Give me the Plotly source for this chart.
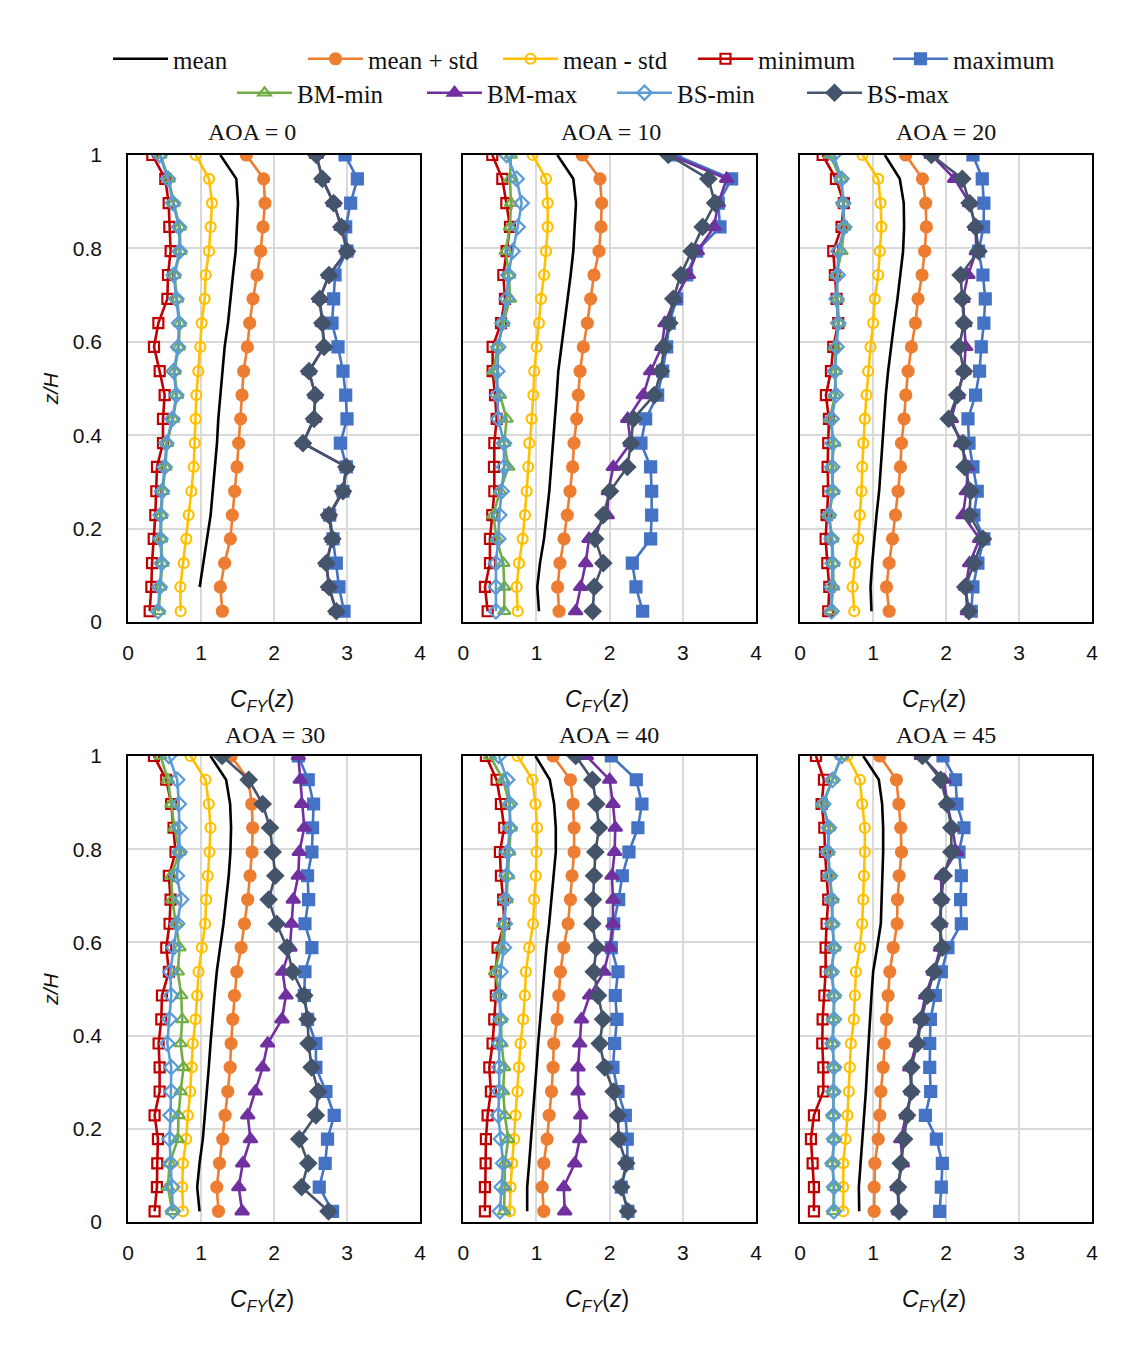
import plotly.graph_objects as go

# z/H levels (top to bottom)
Z = [1.0, 0.949, 0.897, 0.846, 0.794, 0.743, 0.692, 0.640, 0.589, 0.537,
     0.486, 0.435, 0.383, 0.332, 0.280, 0.229, 0.178, 0.126, 0.075, 0.023]

AOA = ["AOA = 0", "AOA = 10", "AOA = 20", "AOA = 30", "AOA = 40", "AOA = 45"]
X_TITLE = "<i>C</i><sub><i>FY</i></sub>(<i>z</i>)"
Y_TITLE = "<i>z/H</i>"

MEAN = [
    [1.265, 1.484, 1.507, 1.493, 1.475, 1.438, 1.406, 1.370, 1.324, 1.292, 1.265, 1.237, 1.219, 1.192, 1.164, 1.132, 1.082, 1.027, 0.982, None],
    [1.285, 1.503, 1.540, 1.526, 1.503, 1.467, 1.426, 1.390, 1.344, 1.298, 1.276, 1.253, 1.230, 1.207, 1.175, 1.139, 1.103, 1.048, 1.011, 1.034],
    [1.162, 1.367, 1.421, 1.426, 1.412, 1.376, 1.335, 1.289, 1.244, 1.207, 1.175, 1.153, 1.125, 1.107, 1.084, 1.048, 1.016, 0.989, 0.966, 0.979],
    [1.130, 1.344, 1.399, 1.412, 1.403, 1.380, 1.344, 1.308, 1.262, 1.216, 1.185, 1.153, 1.130, 1.107, 1.080, 1.048, 1.025, 0.980, 0.948, 0.980],
    [0.986, 1.182, 1.241, 1.264, 1.264, 1.236, 1.205, 1.173, 1.136, 1.105, 1.077, 1.045, 1.023, 1.000, 0.977, 0.955, 0.932, 0.900, 0.873, 0.873],
    [0.866, 1.080, 1.125, 1.139, 1.139, 1.125, 1.116, 1.107, 1.057, 1.002, 0.979, 0.957, 0.934, 0.920, 0.902, 0.879, 0.852, 0.829, 0.806, 0.811],
]

MEAN_PLUS = [
    [1.621, 1.858, 1.877, 1.849, 1.817, 1.767, 1.712, 1.667, 1.635, 1.584, 1.562, 1.543, 1.516, 1.493, 1.461, 1.429, 1.402, 1.324, 1.265, 1.292],
    [1.626, 1.868, 1.891, 1.882, 1.854, 1.786, 1.740, 1.695, 1.640, 1.595, 1.572, 1.549, 1.513, 1.494, 1.458, 1.421, 1.376, 1.321, 1.289, 1.308],
    [1.449, 1.677, 1.722, 1.731, 1.708, 1.672, 1.617, 1.581, 1.526, 1.481, 1.449, 1.426, 1.390, 1.376, 1.344, 1.308, 1.267, 1.221, 1.185, 1.221],
    [1.412, 1.649, 1.695, 1.708, 1.699, 1.672, 1.640, 1.595, 1.549, 1.490, 1.458, 1.435, 1.412, 1.399, 1.367, 1.330, 1.298, 1.253, 1.216, 1.239],
    [1.227, 1.464, 1.500, 1.514, 1.514, 1.486, 1.464, 1.432, 1.373, 1.327, 1.305, 1.282, 1.236, 1.227, 1.205, 1.173, 1.145, 1.100, 1.077, 1.100],
    [1.093, 1.321, 1.353, 1.380, 1.390, 1.358, 1.335, 1.330, 1.276, 1.230, 1.207, 1.185, 1.153, 1.139, 1.107, 1.093, 1.071, 1.025, 1.016, 1.016],
]

MEAN_MINUS = [
    [0.927, 1.110, 1.151, 1.132, 1.110, 1.064, 1.050, 1.009, 0.991, 0.963, 0.936, 0.927, 0.913, 0.900, 0.868, 0.831, 0.799, 0.763, 0.717, 0.721],
    [0.948, 1.130, 1.153, 1.153, 1.130, 1.103, 1.062, 1.034, 1.002, 0.970, 0.957, 0.934, 0.902, 0.888, 0.866, 0.843, 0.811, 0.761, 0.729, 0.743],
    [0.856, 1.071, 1.103, 1.116, 1.093, 1.071, 1.025, 1.002, 0.966, 0.934, 0.911, 0.888, 0.866, 0.852, 0.843, 0.820, 0.797, 0.752, 0.720, 0.743],
    [0.856, 1.062, 1.107, 1.130, 1.116, 1.093, 1.071, 1.057, 1.011, 0.966, 0.948, 0.925, 0.888, 0.875, 0.852, 0.820, 0.797, 0.752, 0.743, 0.752],
    [0.741, 0.945, 0.986, 1.009, 1.000, 0.991, 0.968, 0.955, 0.900, 0.855, 0.841, 0.818, 0.782, 0.759, 0.741, 0.714, 0.695, 0.668, 0.645, 0.636],
    [0.647, 0.820, 0.852, 0.888, 0.888, 0.875, 0.866, 0.852, 0.820, 0.765, 0.752, 0.738, 0.697, 0.683, 0.670, 0.651, 0.624, 0.592, 0.592, 0.592],
]

MINIMUM = [
    [0.333, 0.511, 0.557, 0.566, 0.584, 0.548, 0.539, 0.416, 0.356, 0.434, 0.502, 0.479, 0.479, 0.397, 0.388, 0.374, 0.352, 0.329, 0.320, 0.297],
    [0.396, 0.533, 0.588, 0.638, 0.592, 0.547, 0.569, 0.515, 0.401, 0.401, 0.433, 0.456, 0.424, 0.419, 0.424, 0.396, 0.364, 0.364, 0.296, 0.333],
    [0.310, 0.492, 0.601, 0.569, 0.456, 0.478, 0.501, 0.524, 0.456, 0.424, 0.355, 0.396, 0.387, 0.378, 0.387, 0.364, 0.351, 0.374, 0.401, 0.387],
    [0.355, 0.524, 0.592, 0.624, 0.651, 0.560, 0.583, 0.569, 0.524, 0.560, 0.465, 0.456, 0.419, 0.433, 0.433, 0.364, 0.410, 0.401, 0.396, 0.364],
    [0.309, 0.455, 0.514, 0.559, 0.500, 0.514, 0.545, 0.559, 0.468, 0.445, 0.445, 0.423, 0.400, 0.355, 0.377, 0.332, 0.309, 0.305, 0.295, 0.295],
    [0.219, 0.328, 0.296, 0.333, 0.342, 0.364, 0.387, 0.364, 0.351, 0.351, 0.333, 0.310, 0.305, 0.319, 0.319, 0.191, 0.150, 0.173, 0.191, 0.191],
]

MAXIMUM = [
    [2.973, 3.142, 3.050, 2.982, 3.000, 2.836, 2.817, 2.795, 2.877, 2.945, 2.982, 3.000, 2.909, 2.991, 2.945, 2.763, 2.808, 2.854, 2.890, 2.959],
    [2.893, 3.667, 3.485, 3.508, 3.189, 3.052, 2.916, 2.815, 2.779, 2.724, 2.656, 2.492, 2.428, 2.560, 2.574, 2.574, 2.560, 2.310, 2.360, 2.451],
    [2.369, 2.497, 2.519, 2.515, 2.446, 2.506, 2.538, 2.519, 2.483, 2.460, 2.405, 2.301, 2.315, 2.369, 2.428, 2.383, 2.519, 2.437, 2.369, 2.346],
    [2.333, 2.469, 2.542, 2.528, 2.519, 2.460, 2.474, 2.424, 2.519, 2.424, 2.415, 2.460, 2.574, 2.574, 2.711, 2.825, 2.733, 2.701, 2.620, 2.802],
    [2.023, 2.364, 2.441, 2.386, 2.264, 2.173, 2.123, 2.055, 2.023, 2.114, 2.077, 2.100, 2.068, 2.045, 2.114, 2.214, 2.241, 2.241, 2.159, 2.250],
    [1.959, 2.132, 2.150, 2.246, 2.178, 2.210, 2.200, 2.210, 2.027, 1.936, 1.854, 1.786, 1.777, 1.777, 1.790, 1.718, 1.868, 1.950, 1.936, 1.913],
]

BM_MIN = [
    [0.444, 0.558, 0.626, 0.709, 0.718, 0.636, 0.672, 0.709, 0.695, 0.636, 0.672, 0.617, 0.535, 0.512, 0.476, 0.457, 0.453, 0.471, 0.444, 0.421],
    [0.651, 0.638, 0.651, 0.638, 0.579, 0.624, 0.638, 0.547, 0.469, 0.410, 0.501, 0.592, 0.560, 0.615, 0.501, 0.410, 0.456, 0.547, 0.560, 0.560],
    [0.410, 0.560, 0.592, 0.606, 0.569, 0.501, 0.515, 0.533, 0.478, 0.487, 0.478, 0.410, 0.469, 0.433, 0.456, 0.396, 0.442, 0.456, 0.456, 0.424],
    [0.446, 0.547, 0.592, 0.638, 0.706, 0.592, 0.606, 0.661, 0.706, 0.683, 0.729, 0.743, 0.720, 0.761, 0.720, 0.692, 0.683, 0.569, 0.547, 0.606],
    [0.364, 0.545, 0.627, 0.650, 0.627, 0.614, 0.591, 0.545, 0.514, 0.432, 0.500, 0.514, 0.523, 0.559, 0.545, 0.568, 0.614, 0.568, 0.568, 0.559],
    [0.569, 0.442, 0.310, 0.396, 0.387, 0.410, 0.442, 0.446, 0.469, 0.433, 0.469, 0.456, 0.446, 0.465, 0.456, 0.456, 0.465, 0.442, 0.465, 0.456],
]

BM_MAX = [
    [2.580, 2.662, 2.817, 2.922, 3.000, 2.753, 2.626, 2.662, 2.685, 2.479, 2.566, 2.548, 2.397, 2.991, 2.945, 2.753, 2.799, 2.717, 2.753, 2.854],
    [2.825, 3.599, 3.485, 3.426, 3.198, 3.075, 2.893, 2.756, 2.711, 2.560, 2.460, 2.246, 2.287, 2.050, 1.982, 1.968, 1.718, 1.672, 1.604, 1.535],
    [1.800, 2.118, 2.323, 2.405, 2.415, 2.301, 2.232, 2.255, 2.269, 2.246, 2.164, 2.073, 2.200, 2.301, 2.278, 2.232, 2.460, 2.323, 2.269, 2.292],
    [2.333, 2.360, 2.378, 2.415, 2.346, 2.333, 2.264, 2.241, 2.219, 2.118, 2.164, 2.109, 1.913, 1.845, 1.745, 1.640, 1.677, 1.572, 1.517, 1.563],
    [1.682, 2.000, 2.045, 2.077, 2.068, 2.032, 2.045, 2.045, 2.000, 1.923, 1.727, 1.614, 1.591, 1.568, 1.568, 1.605, 1.591, 1.523, 1.373, 1.386],
    [1.663, 1.973, 2.018, 2.087, 2.141, 1.936, 1.936, 1.923, 1.923, 1.831, 1.718, 1.649, 1.595, 1.503, 1.526, 1.458, 1.380, 1.403, 1.335, 1.353],
]

BS_MIN = [
    [0.434, 0.548, 0.616, 0.699, 0.708, 0.626, 0.662, 0.699, 0.685, 0.626, 0.662, 0.607, 0.525, 0.502, 0.466, 0.447, 0.443, 0.461, 0.434, 0.411],
    [0.592, 0.729, 0.797, 0.743, 0.674, 0.615, 0.592, 0.533, 0.478, 0.465, 0.465, 0.478, 0.556, 0.556, 0.524, 0.492, 0.478, 0.446, 0.446, 0.446],
    [0.456, 0.569, 0.592, 0.606, 0.524, 0.515, 0.501, 0.524, 0.501, 0.478, 0.492, 0.433, 0.446, 0.442, 0.446, 0.396, 0.433, 0.446, 0.433, 0.433],
    [0.560, 0.674, 0.697, 0.706, 0.706, 0.670, 0.729, 0.674, 0.624, 0.579, 0.592, 0.569, 0.538, 0.592, 0.592, 0.583, 0.569, 0.583, 0.606, 0.615],
    [0.486, 0.600, 0.636, 0.636, 0.605, 0.591, 0.577, 0.568, 0.555, 0.509, 0.491, 0.509, 0.491, 0.491, 0.491, 0.477, 0.514, 0.545, 0.523, 0.500],
    [0.569, 0.446, 0.319, 0.396, 0.378, 0.410, 0.433, 0.442, 0.465, 0.433, 0.465, 0.465, 0.446, 0.465, 0.456, 0.456, 0.465, 0.446, 0.465, 0.465],
]

BS_MAX = [
    [2.580, 2.662, 2.817, 2.922, 3.000, 2.753, 2.626, 2.662, 2.685, 2.479, 2.566, 2.548, 2.397, 2.991, 2.945, 2.753, 2.799, 2.717, 2.753, 2.854],
    [2.802, 3.349, 3.440, 3.271, 3.121, 2.970, 2.870, 2.815, 2.743, 2.702, 2.610, 2.323, 2.292, 2.241, 2.005, 1.913, 1.800, 1.913, 1.790, 1.768],
    [1.800, 2.223, 2.323, 2.405, 2.446, 2.200, 2.223, 2.246, 2.178, 2.246, 2.155, 2.036, 2.232, 2.255, 2.337, 2.323, 2.506, 2.383, 2.264, 2.314],
    [1.289, 1.654, 1.845, 1.945, 1.982, 2.018, 1.927, 2.036, 2.178, 2.255, 2.415, 2.460, 2.474, 2.515, 2.606, 2.574, 2.346, 2.469, 2.378, 2.747],
    [1.536, 1.764, 1.818, 1.855, 1.805, 1.786, 1.773, 1.764, 1.818, 1.782, 1.841, 1.909, 1.864, 1.932, 2.055, 2.114, 2.123, 2.227, 2.159, 2.250],
    [1.677, 1.927, 2.014, 2.073, 2.073, 1.968, 1.936, 1.913, 1.950, 1.836, 1.745, 1.663, 1.608, 1.526, 1.526, 1.467, 1.426, 1.380, 1.344, 1.358],
]

X_TICKS = [0, 1, 2, 3, 4]
Y_TICKS = [0, 0.2, 0.4, 0.6, 0.8, 1]

# series: (name, data, color, symbol, size, legend group)
SERIES = [
    ("mean", MEAN, "#000000", None, 0, "legend"),
    ("mean + std", MEAN_PLUS, "#ED7D31", "circle", 11, "legend"),
    ("mean - std", MEAN_MINUS, "#FFC000", "circle-open", 10, "legend"),
    ("minimum", MINIMUM, "#C00000", "square-open", 10, "legend"),
    ("maximum", MAXIMUM, "#4472C4", "square", 11, "legend"),
    ("BM-min", BM_MIN, "#70AD47", "triangle-up-open", 11, "legend2"),
    ("BM-max", BM_MAX, "#7030A0", "triangle-up", 12, "legend2"),
    ("BS-min", BS_MIN, "#5B9BD5", "diamond-open", 11, "legend2"),
    ("BS-max", BS_MAX, "#44546A", "diamond", 12, "legend2"),
]

# The page body has an 8px margin; size the figure so that it fits the window.
OFF = 8
WF, HF = 1147 - 2 * OFF, 1347 - 2 * OFF


def fx(px):
    return (px - OFF) / WF


def fy(py):
    return 1 - (py - OFF) / HF


COL_PX = [(128, 420), (463.3, 756), (800, 1092)]
ROW_PX = [(155, 622), (756, 1222)]

fig = go.Figure()

SANS = "Liberation Sans, Arial, sans-serif"
SERIF = "Liberation Serif, Times New Roman, serif"
TXT = "#111111"
TICK_FONT = dict(family=SANS, size=21, color=TXT)

for p in range(6):
    r, c = divmod(p, 3)
    idx = "" if p == 0 else str(p + 1)
    xa, ya = "x" + idx, "y" + idx
    for (name, data, color, sym, size, lg) in SERIES:
        if sym is None:
            fig.add_trace(go.Scatter(
                x=data[p], y=Z, mode="lines", name=name,
                line=dict(color=color, width=2.6),
                xaxis=xa, yaxis=ya, showlegend=(p == 0), legend=lg,
                connectgaps=False))
        else:
            fig.add_trace(go.Scatter(
                x=data[p], y=Z, mode="lines+markers", name=name,
                line=dict(color=color, width=2.6),
                marker=dict(symbol=sym, size=size, color=color,
                            line=dict(width=2.2, color=color)),
                xaxis=xa, yaxis=ya, showlegend=(p == 0), legend=lg))

    x0, x1 = COL_PX[c]
    y0, y1 = ROW_PX[r]
    xkey = "xaxis" + idx
    ykey = "yaxis" + idx
    fig.layout[xkey] = dict(
        domain=[fx(x0), fx(x1)], anchor=ya, range=[0, 4], tickvals=X_TICKS, automargin=False,
        showgrid=True, gridcolor="#D9D9D9", gridwidth=1.5,
        zeroline=False, showline=True, linecolor="black", linewidth=1.5,
        mirror=True, ticks="", tickfont=TICK_FONT, ticklabelstandoff=11,
    )
    yax = dict(
        domain=[fy(y1), fy(y0)], anchor=xa, range=[0, 1], tickvals=Y_TICKS, automargin=False,
        showgrid=True, gridcolor="#D9D9D9", gridwidth=1.5,
        zeroline=False, showline=True, linecolor="black", linewidth=1.5,
        mirror=True, ticks="", tickfont=TICK_FONT, ticklabelstandoff=20,
        showticklabels=(c == 0),
    )
    if c == 0:
        yax["title"] = dict(text=Y_TITLE, font=dict(family=SANS, size=21, color=TXT), standoff=8)
    fig.layout[ykey] = yax

# subplot titles
TITLE_POS = [(252, 132), (611, 132), (946, 132), (275, 735), (609, 735), (946, 735)]
for p, (tx, ty) in enumerate(TITLE_POS):
    fig.add_annotation(text=AOA[p], x=fx(tx), y=fy(ty), xref="paper", yref="paper",
                       showarrow=False, xanchor="center", yanchor="middle",
                       font=dict(family=SERIF, size=24, color=TXT))

# x-axis titles (placed as in the reference, slightly left of each plot's centre)
XT_POS = [(262, 700), (597, 700), (934, 700), (262, 1300), (597, 1300), (934, 1300)]
for (tx, ty) in XT_POS:
    fig.add_annotation(text=X_TITLE, x=fx(tx), y=fy(ty), xref="paper", yref="paper",
                       showarrow=False, xanchor="center", yanchor="middle",
                       font=dict(family=SANS, size=23, color=TXT))

fig.update_layout(
    width=WF, height=HF,
    margin=dict(l=0, r=0, t=0, b=0, autoexpand=False),
    paper_bgcolor="white", plot_bgcolor="white",
    legend=dict(orientation="h", x=fx(108), y=fy(59), xanchor="left", yanchor="middle",
                entrywidth=125, entrywidthmode="pixels",
                font=dict(family=SERIF, size=25, color=TXT),
                bgcolor="rgba(0,0,0,0)", itemwidth=55),
    legend2=dict(orientation="h", x=fx(232), y=fy(93), xanchor="left", yanchor="middle",
                 entrywidth=120, entrywidthmode="pixels",
                 font=dict(family=SERIF, size=25, color=TXT),
                 bgcolor="rgba(0,0,0,0)", itemwidth=55),
)

fig.write_html("out.html")
